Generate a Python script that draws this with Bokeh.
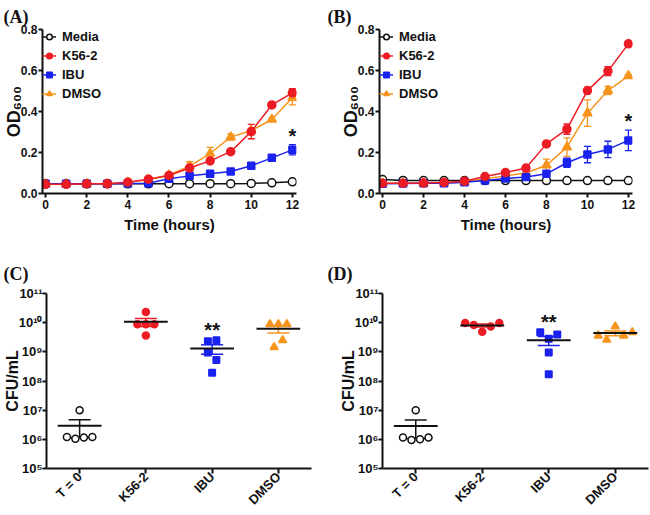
import numpy as np
from bokeh.plotting import figure
from bokeh.layouts import column, row
from bokeh.models import (ColumnDataSource, Whisker, TeeHead, FixedTicker, Legend, LegendItem,
                          CustomJSTickFormatter, Range1d, PrintfTickFormatter)
from bokeh.core.properties import value
from bokeh.embed import file_html
from bokeh.resources import INLINE

# ---------------- data ----------------
hours = list(range(13))

# Panel A (OD600)
media_A = [0.047, 0.047, 0.047, 0.047, 0.047, 0.047, 0.048, 0.048, 0.048, 0.048, 0.049, 0.052, 0.057]
k56_A = [0.045, 0.045, 0.047, 0.048, 0.055, 0.070, 0.088, 0.124, 0.159, 0.204, 0.302, 0.432, 0.491]
k56_A_err = [0, 0, 0, 0, 0.003, 0.004, 0.004, 0.006, 0.006, 0.006, 0.035, 0.012, 0.020]
ibu_A = [0.047, 0.047, 0.047, 0.047, 0.049, 0.050, 0.072, 0.086, 0.096, 0.107, 0.135, 0.174, 0.213]
ibu_A_err = [0, 0, 0, 0, 0, 0, 0.004, 0.005, 0.005, 0.006, 0.007, 0.015, 0.025]
dmso_A = [0.047, 0.047, 0.047, 0.047, 0.054, 0.068, 0.090, 0.133, 0.195, 0.275, 0.307, 0.361, 0.467]
dmso_A_err = [0, 0, 0, 0, 0.003, 0.004, 0.004, 0.022, 0.030, 0.015, 0.010, 0.008, 0.035]

# Panel B (OD600)
media_B = [0.068, 0.064, 0.063, 0.063, 0.063, 0.063, 0.063, 0.063, 0.063, 0.063, 0.063, 0.063, 0.063]
k56_B = [0.050, 0.050, 0.051, 0.054, 0.060, 0.083, 0.102, 0.124, 0.242, 0.314, 0.502, 0.597, 0.730]
k56_B_err = [0, 0, 0, 0, 0, 0.004, 0.004, 0.005, 0.006, 0.025, 0.015, 0.022, 0.006]
ibu_B = [0.048, 0.049, 0.050, 0.050, 0.055, 0.063, 0.073, 0.080, 0.096, 0.150, 0.190, 0.215, 0.259]
ibu_B_err = [0.004, 0.004, 0.003, 0.003, 0.003, 0.003, 0.004, 0.005, 0.006, 0.022, 0.040, 0.040, 0.050]
dmso_B = [0.050, 0.050, 0.051, 0.052, 0.055, 0.072, 0.086, 0.100, 0.138, 0.226, 0.392, 0.502, 0.574]
dmso_B_err = [0, 0, 0, 0, 0, 0.004, 0.004, 0.006, 0.030, 0.045, 0.065, 0.020, 0.005]

# Panels C and D (CFU/mL)
groups = ["T = 0", "K56-2", "IBU", "DMSO"]
t0_C = [1.2e6, 1.05e6, 1.0e7, 1.15e6, 1.2e6]
k56_C = [8.9e9, 2.3e10, 8.9e9, 3.6e9, 8.9e9]
ibu_C = [2.3e9, 2.5e9, 9.4e8, 5.3e8, 1.9e8]
dmso_C = [8.9e9, 8.9e9, 8.9e9, 1.45e9, 2.5e9]

t0_D = [1.15e6, 0.95e6, 1.0e7, 1.0e6, 1.15e6]
k56_D = [9.8e9, 8.3e9, 4.9e9, 7.4e9, 9.8e9]
ibu_D = [4.7e9, 2.8e9, 3.9e9, 9.4e8, 1.7e8]
dmso_D = [3.6e9, 2.6e9, 7.4e9, 3.6e9, 4.7e9]

# ---------------- style ----------------
RED = "#ec1c24"
BLUE = "#1a22ee"
ORANGE = "#f7941d"
BLACK = "#111111"
FONT = "Liberation Sans"


def style_axes(p):
    p.outline_line_color = None
    p.xgrid.visible = False
    p.ygrid.visible = False
    for ax in (p.xaxis[0], p.yaxis[0]):
        ax.axis_line_width = 2
        ax.axis_line_color = BLACK
        ax.major_tick_line_width = 2
        ax.major_tick_line_color = BLACK
        ax.major_tick_out = 4
        ax.major_tick_in = 0
        ax.minor_tick_line_color = None
        ax.major_label_text_font = FONT
        ax.major_label_text_font_style = "bold"
        ax.major_label_text_font_size = "12px"
        ax.major_label_text_color = BLACK
        ax.major_label_standoff = 2
        ax.axis_label_text_font = FONT
        ax.axis_label_text_font_style = "bold"
        ax.axis_label_text_color = BLACK
    p.yaxis.major_label_standoff = 1


def panel_title(p, text, offset, standoff):
    p.title.text = text
    p.title.text_font = "Liberation Serif"
    p.title.text_font_size = "18px"
    p.title.text_font_style = "bold"
    p.title.text_color = BLACK
    p.title.align = "left"
    p.title.offset = offset
    p.title.standoff = standoff


def add_series(p, y, err, color, marker, fill, size):
    src = ColumnDataSource(dict(x=hours, y=y))
    ln = p.line("x", "y", source=src, line_color=color, line_width=1.5)
    if err is not None:
        xs = [h for h, e in zip(hours, err) if e > 0]
        up = [v + e for v, e in zip(y, err) if e > 0]
        lo = [v - e for v, e in zip(y, err) if e > 0]
        w = Whisker(source=ColumnDataSource(dict(base=xs, upper=up, lower=lo)),
                    base="base", upper="upper", lower="lower", dimension="height",
                    line_color=color, line_width=1.3,
                    upper_head=TeeHead(size=7, line_color=color, line_width=1.3),
                    lower_head=TeeHead(size=7, line_color=color, line_width=1.3))
        p.add_layout(w)
    sc = p.scatter("x", "y", source=src, marker=marker, size=size, line_color=color,
                   fill_color=fill, line_width=1.5)
    return [ln, sc]


def ts_panel(label, min_left, min_right, media, k56, k56e, ibu, ibue, dmso, dmsoe):
    p = figure(width=325, height=250, x_range=Range1d(-0.15, 12.2), y_range=Range1d(0, 0.8),
               output_backend="svg", toolbar_location=None,
               min_border_left=min_left, min_border_right=min_right,
               min_border_top=29, min_border_bottom=57)
    style_axes(p)
    panel_title(p, label, -min_left + 2, 6)
    p.xaxis.ticker = FixedTicker(ticks=[0, 2, 4, 6, 8, 10, 12])
    p.yaxis.ticker = FixedTicker(ticks=[0.0, 0.2, 0.4, 0.6, 0.8])
    p.yaxis.formatter = PrintfTickFormatter(format="%.1f")
    p.xaxis.axis_label = "Time (hours)"
    p.xaxis.axis_label_text_font_size = "15px"
    p.xaxis.axis_label_standoff = 4
    p.yaxis.axis_label = "OD\u2086\u2080\u2080"
    p.yaxis.axis_label_text_font_size = "18px"
    p.yaxis.axis_label_standoff = -6

    r_media = add_series(p, media, None, BLACK, "circle", "white", 8)
    r_dmso = add_series(p, dmso, dmsoe, ORANGE, "triangle", ORANGE, 9)
    r_ibu = add_series(p, ibu, ibue, BLUE, "square", BLUE, 7)
    r_k56 = add_series(p, k56, k56e, RED, "circle", RED, 8)

    legend = Legend(items=[LegendItem(label="Media", renderers=r_media),
                           LegendItem(label="K56-2", renderers=r_k56),
                           LegendItem(label="IBU", renderers=r_ibu),
                           LegendItem(label="DMSO", renderers=r_dmso)],
                    location="top_left")
    legend.label_text_font = FONT
    legend.label_text_font_style = "bold"
    legend.label_text_font_size = "13px"
    legend.label_text_color = BLACK
    legend.border_line_color = None
    legend.background_fill_alpha = 0
    legend.glyph_width = 14
    legend.glyph_height = 15
    legend.label_height = 15
    legend.spacing = 4
    legend.padding = 5
    legend.margin = 0
    legend.label_standoff = 6
    p.add_layout(legend)

    p.text(x=[hours[-1]], y=[ibu[-1] + ibue[-1]], text=["*"], text_align="center",
           text_baseline="middle", y_offset=-9, text_font=value(FONT),
           text_font_style="bold", text_font_size="20px", text_color=BLACK)
    return p


def beeswarm(vals, step, thresh):
    lv = np.log10(vals)
    order = sorted(range(len(vals)), key=lambda i: -lv[i])
    clusters = []
    for i in order:
        if clusters and lv[clusters[-1][-1]] - lv[i] < thresh:
            clusters[-1].append(i)
        else:
            clusters.append([i])
    off = [0.0] * len(vals)
    for c in clusters:
        c = sorted(c)
        n = len(c)
        for k, i in enumerate(c):
            off[i] = (k - (n - 1) / 2) * step
    return off


def cfu_panel(label, min_left, min_right, sets):
    p = figure(width=325, height=265, x_range=Range1d(-0.5, 3.5), y_range=Range1d(1e5, 1e11),
               y_axis_type="log", output_backend="svg", toolbar_location=None,
               min_border_left=min_left, min_border_right=min_right,
               min_border_top=43, min_border_bottom=40)
    style_axes(p)
    panel_title(p, label, -min_left + 2, 20)
    p.xaxis.ticker = FixedTicker(ticks=[0, 1, 2, 3])
    p.xaxis.formatter = CustomJSTickFormatter(args=dict(names=groups),
                                              code="return names[Math.round(tick)];")
    p.xaxis.major_label_orientation = np.pi / 4
    p.xaxis.major_label_text_font_size = "13px"
    p.xaxis.major_label_standoff = 1
    p.xaxis.major_tick_out = 5
    p.yaxis.major_label_text_font_size = "13px"
    p.yaxis.major_label_standoff = 0
    p.yaxis.ticker = FixedTicker(ticks=[1e5, 1e6, 1e7, 1e8, 1e9, 1e10, 1e11])
    p.yaxis.formatter = CustomJSTickFormatter(code="""
        const sup = {"0":"\u2070","1":"\u00b9","2":"\u00b2","3":"\u00b3","4":"\u2074",
                     "5":"\u2075","6":"\u2076","7":"\u2077","8":"\u2078","9":"\u2079"};
        const e = Math.round(Math.log10(tick));
        return "10" + String(e).split("").map(c => sup[c]).join("");
    """)
    p.yaxis.axis_label = "CFU/mL"
    p.yaxis.axis_label_text_font_size = "16px"
    p.yaxis.axis_label_standoff = -5

    styles = [(BLACK, "circle", "white", 7),
              (RED, "circle", RED, 7),
              (BLUE, "square", BLUE, 6.5),
              (ORANGE, "triangle", ORANGE, 8)]
    for gi, (vals, (color, marker, fill, size)) in enumerate(zip(sets, styles)):
        vals = np.array(vals, dtype=float)
        off = beeswarm(vals, 0.128, 0.3)
        xs = [gi + o for o in off]
        mean = float(vals.mean())
        sem = float(vals.std(ddof=1) / np.sqrt(len(vals)))
        w = Whisker(source=ColumnDataSource(dict(base=[gi], upper=[mean + sem], lower=[mean - sem])),
                    base="base", upper="upper", lower="lower", dimension="height",
                    line_color=color, line_width=1.5,
                    upper_head=TeeHead(size=22, line_color=color, line_width=1.5),
                    lower_head=TeeHead(size=22, line_color=color, line_width=1.5))
        p.add_layout(w)
        p.scatter(x=xs, y=list(vals), marker=marker, size=size, line_color=color,
                  fill_color=fill, line_width=1.5)
        p.segment(x0=[gi - 0.33], x1=[gi + 0.33], y0=[mean], y1=[mean],
                  line_color=BLACK, line_width=2)

    ibu_vals = sets[2]
    p.text(x=[2], y=[max(ibu_vals)], text=["**"], text_align="center", text_baseline="middle",
           y_offset=-10, text_font=value(FONT), text_font_style="bold",
           text_font_size="20px", text_color=BLACK)
    return p


pA = ts_panel("(A)", 41, 29, media_A, k56_A, k56_A_err, ibu_A, ibu_A_err, dmso_A, dmso_A_err)
pB = ts_panel("(B)", 54, 18, media_B, k56_B, k56_B_err, ibu_B, ibu_B_err, dmso_B, dmso_B_err)
pC = cfu_panel("(C)", 45, 14, [t0_C, k56_C, ibu_C, dmso_C])
pD = cfu_panel("(D)", 57, 2, [t0_D, k56_D, ibu_D, dmso_D])

layout = column(row(pA, pB), row(pC, pD),
                styles={"position": "absolute", "left": "0px", "top": "0px"})

open("out.html", "w").write(file_html(layout, INLINE))
